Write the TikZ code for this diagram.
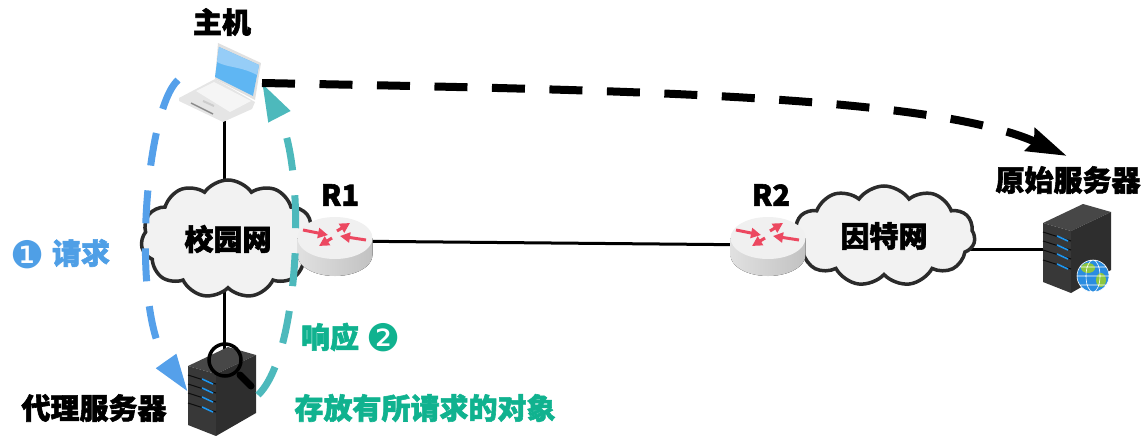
\documentclass[tikz,border=0pt]{standalone}
\usepackage{fontspec}
\setmainfont{Noto Sans CJK SC}[BoldFeatures={FakeBold=2}]
\newfontfamily\dingfont{DejaVu Sans}
\usetikzlibrary{arrows.meta,shapes.symbols,backgrounds}
\definecolor{reqblue}{HTML}{55A0EA}
\definecolor{reqtext}{HTML}{4F9FE6}
\definecolor{resteal}{HTML}{4DB9BC}
\definecolor{restext}{HTML}{10B28F}
\definecolor{cloudgray}{HTML}{F2F2F2}
\definecolor{linegray}{HTML}{2B2B2B}
\tikzset{
  net/.style={cloud,draw=linegray,fill=cloudgray,line width=3.5pt,cloud puffs=11,cloud puff arc=110,cloud ignores aspect,inner sep=0pt,font=\fontsize{29}{29}\selectfont\bfseries},
  title/.style={inner sep=0pt,font=\fontsize{29}{29}\selectfont\bfseries},
  link/.style={line width=3pt,black},
  reqpath/.style={draw=reqblue,line width=7pt,dash pattern=on 33pt off 25pt,-{Triangle[length=38pt,width=23pt]}},
  respath/.style={draw=resteal,line width=7pt,dash pattern=on 33pt off 25pt,-{Triangle[length=38pt,width=23pt]}},
  webpath/.style={draw=black,line width=8pt,dash pattern=on 33pt off 24.5pt,-{Stealth[length=40pt,width=24pt,inset=4pt]}},
  router/.pic={
    \fill[left color=black!12,right color=black!24] (-37.5,0) -- (-37.5,17) arc[start angle=180,end angle=0,x radius=37.5,y radius=21] -- (37.5,0) -- cycle;
    \fill[black!6] (0,0) ellipse[x radius=37.5,y radius=21];
    \foreach \ax/\ay/\bx/\by in {-32/-8/-7/-3,2/-7/15/-15,31/2/5/-2,-3/0/-16/8}
      \draw[line width=3pt,color={rgb,255:red,236;green,72;blue,96},-{Triangle[length=10pt,width=10pt]}] (\ax,\ay) -- (\bx,\by);
  },
  server/.pic={
    \fill[black!72] (-28,-8) -- (12,-27) -- (40,-19) -- (0,0) -- cycle;
    \fill[black!78] (-28,-8) -- (0,0) -- (0,62) -- (-28,51) -- cycle;
    \fill[black!82] (0,0) -- (40,-19) -- (40,39) -- (0,62) -- cycle;
    \foreach \sy in {1,10,19,29}{
      \draw[black!95,line width=1pt] (-28,\sy) -- (0,\sy+9);
      \draw[color={rgb,255:red,30;green,150;blue,240},line width=1.6pt] (-14,\sy+4) -- (-3,\sy+9);
    }
  },
  laptop/.pic={
    \fill[black!10] (179,98) -- (215,79) -- (255,102) -- (252,109) -- (223,122) -- (179,101) -- cycle;
    \fill[black!4] (196,91) -- (214,82) -- (251,101) -- (230,112) -- cycle;
    \draw[black!45,line width=1.5pt] (191,103) -- (213,114);
    \draw[black!20,line width=2pt] (203,101) -- (214,106);
    \fill[black!12] (218,43) -- (261,63) -- (255,100) -- (215,79) -- cycle;
    \fill[color={rgb,255:red,95;green,182;blue,243}] (219,47) -- (259,65) -- (253,96) -- (215,77) -- cycle;
    \fill[color={rgb,255:red,150;green,205;blue,247}] (219,47) -- (259,65) -- (257,75) .. controls (240,66) and (228,68) .. (217,62) -- cycle;
  }
}
\begin{document}
\begin{tikzpicture}[x=1pt,y=-1pt]
\useasboundingbox (0,0) rectangle (1148,436);
% clouds
\node (campus) at (228,239) [net,minimum width=174pt,minimum height=118pt] {校园网};
\node (inet) at (884,236) [net,minimum width=182pt,minimum height=100pt] {因特网};
% connection points
\coordinate (host) at (224,121);
\coordinate (proxy) at (224,350);
\coordinate (origin) at (1043,249);
\coordinate (rA) at (335,241);
\coordinate (rB) at (768,245);
\begin{scope}[on background layer]
\draw[link] (host) -- (host |- campus);
\draw[link] (proxy) -- (proxy |- campus);
\draw[link] (origin) -- (origin -| inet.center);
\end{scope}
\draw[link] (rA) -- (rB);
% devices
\pic at (335,238) {router};
\pic at (768,238) {router};
\pic at (0,0) {laptop};
\pic at (1071,231) {server};
\pic at (216,374) {server};
% globe and lens
\fill[color={rgb,255:red,42;green,140;blue,224}] (1093,276) circle (16);
\fill[color={rgb,255:red,140;green,198;blue,63}] (1088,268) ellipse (7 and 5) (1101,280) ellipse (5 and 7);
\draw[white,line width=.6pt] (1093,276) circle (16) (1093,276) ellipse (7 and 16) (1077,276) -- (1109,276) (1080,267) -- (1106,267) (1080,285) -- (1106,285);
\draw[black,line width=3.5pt] (225,360) circle (16);
\draw[black,line width=7pt,line cap=round] (240,375) -- (251,386);
% paths
\coordinate (reqA) at (178,80);
\coordinate (reqB) at (188,392);
\coordinate (resA) at (258,395);
\coordinate (resB) at (262,83);
\coordinate (webA) at (262,83);
\coordinate (webB) at (1067,156);
\draw[reqpath] (reqA) .. controls (145,110) and (130,310) .. (reqB);
\draw[respath] (resA) .. controls (300,355) and (307,170) .. (resB);
\draw[webpath] (webA) .. controls (620,90) and (930,95) .. (webB);
% labels
\node (hostlabel) at (222,22) [title] {主机};
\node (rAlabel) at (340,195) [title] {R1};
\node (rBlabel) at (771,195) [title] {R2};
\node (originlabel) at (1068,180) [title] {原始服务器};
\node (proxylabel) at (94,408) [title] {代理服务器};
\node (reqmark) at (28,255) [inner sep=0pt,text=reqtext,font=\fontsize{38}{38}\selectfont\dingfont] {❶};
\node (reqlabel) at (81,253) [title,text=reqtext] {请求};
\node (reslabel) at (330,337) [title,text=restext] {响应};
\node (resmark) at (384,338) [inner sep=0pt,text=restext,font=\fontsize{38}{38}\selectfont\dingfont] {❷};
\node (storelabel) at (425,408) [title,text=restext] {存放有所请求的对象};
\end{tikzpicture}
\end{document}
